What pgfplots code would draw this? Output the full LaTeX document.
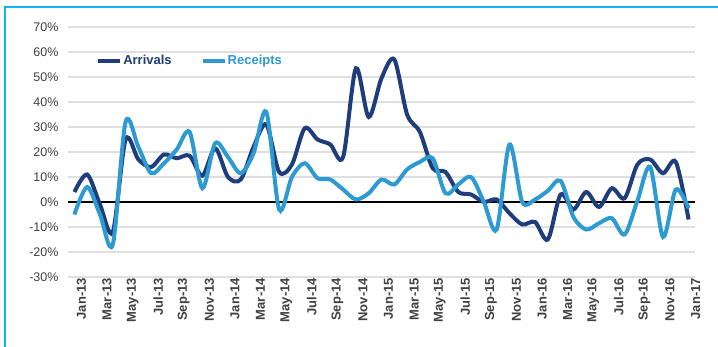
\documentclass[border=0pt]{standalone}
\usepackage{pgfplots}
\pgfplotsset{compat=1.18}
\usepackage{fontspec}
\setmainfont{Liberation Sans}
\definecolor{darkb}{HTML}{1F3D7A}
\definecolor{lightb}{HTML}{2E9AD2}
\definecolor{frame}{HTML}{14B4F0}
\definecolor{tick}{HTML}{404040}
\begin{document}
\begin{tikzpicture}[x=1pt,y=1pt]
\useasboundingbox (0,0) rectangle (718,347);
\fill[white] (0,0) rectangle (718,347);
\draw[frame, line width=2pt] (5,0) -- (5,340) -- (718,340);
\begin{axis}[
  at={(68pt,70pt)}, anchor=south west,
  scale only axis, width=627pt, height=250pt,
  xmin=-0.5, xmax=48.5, ymin=-30, ymax=70,
  ytick={-30,-20,...,70},
  yticklabel={\pgfmathprintnumber{\tick}\%},
  xtick={0,2,...,48},
  xticklabels={Jan-13,Mar-13,May-13,Jul-13,Sep-13,Nov-13,Jan-14,Mar-14,May-14,Jul-14,Sep-14,Nov-14,Jan-15,Mar-15,May-15,Jul-15,Sep-15,Nov-15,Jan-16,Mar-16,May-16,Jul-16,Sep-16,Nov-16,Jan-17},
  x tick label style={rotate=90, anchor=east, font=\fontsize{13}{15}\selectfont\bfseries, text=tick, inner sep=1pt},
  y tick label style={font=\fontsize{12.5}{14}\selectfont, text=tick},
  /pgf/number format/assume math mode=true,
  axis line style={draw=none},
  major tick length=0pt,
  ymajorgrids, grid style={gray!25, line width=1.2pt},
  xtick pos=bottom, ytick pos=left,
  tick align=outside,
  yticklabel style={xshift=-6pt},
  xticklabel style={yshift=-7pt},
  legend style={at={(0.04,0.864)}, anchor=west, draw=none, fill=none,
    legend columns=2, font=\fontsize{13}{15}\selectfont\bfseries,
    /tikz/every even column/.append style={column sep=28pt},
    nodes={inner sep=1pt}},
  legend image code/.code={\draw[#1] (0pt,0pt) -- (22pt,0pt);},
]
\addplot[black, line width=1.2pt, forget plot] coordinates {(-0.5,0) (48.5,0)};
\addplot[darkb, line width=4pt, smooth, tension=0.5] coordinates {
(0,4) (1,11) (2,-1) (3,-12) (4,25) (5,17) (6,14) (7,19) (8,17.5) (9,18.5)
(10,10.5) (11,21.5) (12,10) (13,9) (14,22) (15,31) (16,12) (17,15) (18,29.5) (19,25)
(20,23) (21,18) (22,53.5) (23,34) (24,49.5) (25,57) (26,35) (27,28) (28,13.5) (29,12)
(30,4) (31,3) (32,0) (33,1) (34,-4.5) (35,-9) (36,-8) (37,-15) (38,3) (39,-3)
(40,4) (41,-2) (42,5.5) (43,1.5) (44,15) (45,17) (46,11.5) (47,16) (48,-7)};
\addlegendentry{\textcolor{darkb}{Arrivals}}
\addplot[lightb, line width=4pt, smooth, tension=0.5] coordinates {
(0,-5) (1,6) (2,-5) (3,-17) (4,32) (5,22) (6,11.5) (7,15.5) (8,21) (9,28)
(10,5.5) (11,23.5) (12,18) (13,11.5) (14,19.5) (15,36) (16,-3) (17,10) (18,15.5) (19,9.5)
(20,9) (21,5) (22,1) (23,3.5) (24,9) (25,7) (26,13) (27,16) (28,17.5) (29,3.5)
(30,7) (31,10) (32,0) (33,-11) (34,23) (35,0) (36,1) (37,4.5) (38,8.5) (39,-6)
(40,-11) (41,-8.5) (42,-6.5) (43,-13) (44,0.5) (45,14) (46,-14) (47,5) (48,-2.5)};
\addlegendentry{\textcolor{lightb}{Receipts}}
\end{axis}
\end{tikzpicture}
\end{document}
